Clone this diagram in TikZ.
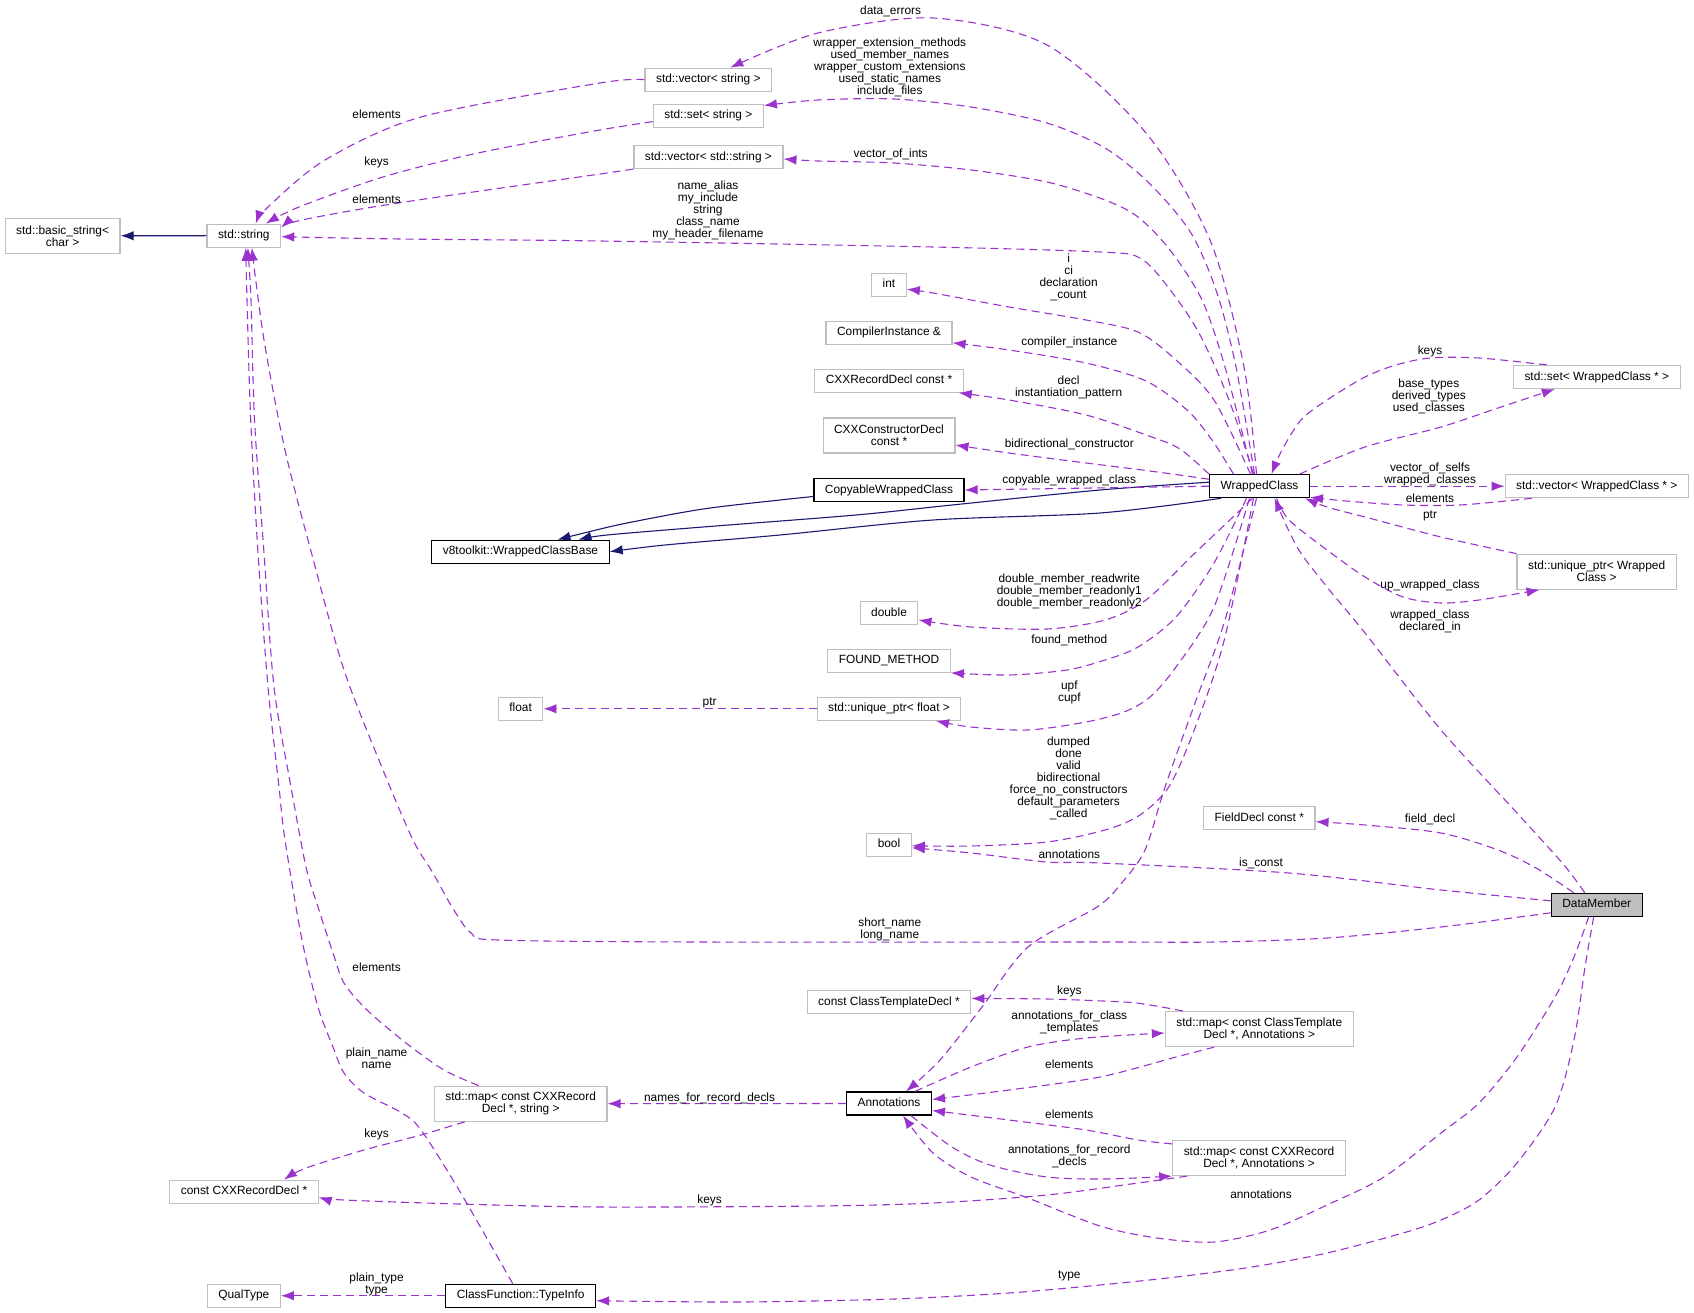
\documentclass[tikz,border=0pt]{standalone}
\usepackage{fontspec}
\setmainfont{Liberation Sans}
\usetikzlibrary{arrows.meta}

\definecolor{edgepurple}{HTML}{9A32CD}
\definecolor{inhnavy}{HTML}{191970}
\definecolor{undocgray}{HTML}{BFBFBF}
\definecolor{selfgray}{HTML}{BFBFBF}
\newcommand{\graphfont}{\fontsize{11.9}{12}\selectfont}

\begin{document}
\begin{tikzpicture}[
  x=1pt, y=-1pt,
  >={Latex[length=13pt,width=9.5pt]},
  every node/.style={font=\graphfont},
  cls/.style={draw=undocgray, line width=1.2pt, inner xsep=11pt, inner ysep=0pt},
  one/.style={cls, minimum height=23pt, text height=8.8pt, text depth=2.6pt},
  two/.style={cls, minimum height=35pt, align=center},
  doc/.style={draw=black},
  lbl/.style={inner sep=0pt, align=center},
  mem/.style={->, edgepurple, line width=1.1pt, dash pattern=on 8pt off 5pt},
  inh/.style={->, inhnavy, line width=1.1pt},
  ]
  \useasboundingbox (0,0) rectangle (1694,1313);

  \node[two] (bstr) at (62.6,235.8) {std::basic\_string<\\char >};
  \node[one] (str) at (243.8,235.7) {std::string};
  \node[one] (vstr) at (708.3,79.7) {std::vector< string >};
  \node[one] (sstr) at (708.3,115.7) {std::set< string >};
  \node[one] (vsstr) at (708.4,157) {std::vector< std::string >};
  \node[one] (int) at (889,284.7) {int};
  \node[one] (ci) at (889,332.7) {CompilerInstance \&};
  \node[one] (crd) at (889,380.7) {CXXRecordDecl const *};
  \node[two] (ccd) at (889,435.5) {CXXConstructorDecl\\const *};
  \node[one,doc] (cwc) at (889,490) {CopyableWrappedClass};
  \node[one,doc] (wcb) at (520.5,551.7) {v8toolkit::WrappedClassBase};
  \node[one] (dbl) at (889,613) {double};
  \node[one] (fm) at (889,660.8) {FOUND\_METHOD};
  \node[one] (upf) at (889,708.8) {std::unique\_ptr< float >};
  \node[one] (flt) at (520.6,708.8) {float};
  \node[one] (bool) at (889,844.8) {bool};
  \node[one,doc] (wc) at (1259.5,486.2) {WrappedClass};
  \node[one] (swc) at (1596.8,377) {std::set< WrappedClass * >};
  \node[one] (vwc) at (1596.8,486.2) {std::vector< WrappedClass * >};
  \node[two] (uwc) at (1596.6,571.7) {std::unique\_ptr< Wrapped\\Class >};
  \node[one] (fd) at (1259.3,818.2) {FieldDecl const *};
  \node[one,doc,fill=selfgray] (dm) at (1596.7,904.8) {DataMember};
  \node[one] (ctd) at (889,1002) {const ClassTemplateDecl *};
  \node[one,doc] (ann) at (889,1103.5) {Annotations};
  \node[two] (mct) at (1259.3,1029) {std::map< const ClassTemplate\\Decl *, Annotations >};
  \node[two] (mcr) at (1259,1158) {std::map< const CXXRecord\\Decl *, Annotations >};
  \node[two] (mcs) at (520.7,1103.7) {std::map< const CXXRecord\\Decl *, string >};
  \node[one] (ccrd) at (244,1191.7) {const CXXRecordDecl *};
  \node[one] (qt) at (243.8,1295.7) {QualType};
  \node[one,doc] (ti) at (520.7,1295.7) {ClassFunction::TypeInfo};

  % inheritance
  \draw[inh] (str.west) -- (bstr.east);
  \draw[inh] plot[smooth] coordinates {([yshift=-6.5pt]cwc.west) (780,500) (703,509) (627,523) (588,532) ([xshift=37pt]wcb.north)};
  \draw[inh] plot[smooth] coordinates {([yshift=4pt]wc.west) (1100,490) (952,505) (856,515) (703,527) (607,535) ([xshift=58pt]wcb.north)};
  \draw[inh] plot[smooth] coordinates {([xshift=12pt]wc.south west) (1100,513) (933,520) (780,535) (665,545) (wcb.east)};

  % members
  \draw[mem] plot[smooth] coordinates {(vstr.west) (600,83) (421,117) (325,160) (268,207) ([xshift=12pt]str.north)};
  \draw[mem] plot[smooth] coordinates {([yshift=-6pt]sstr.west) (600,130) (478,153) (383,177) (299,207) ([xshift=22pt]str.north)};
  \draw[mem] plot[smooth] coordinates {(vsstr.south west) (600,174) (398,203) (302,220) ([yshift=8pt]str.east)};
  \draw[mem] plot[smooth] coordinates {([xshift=-6pt]wc.north) (1229,400) (1199,333) (1168,287) (1140,258) (1100,252) (933,247) (600,241) (400,239) ([yshift=-1pt]str.east)};
  \draw[mem] plot[smooth] coordinates {([xshift=-3pt]wc.north) (1244,367) (1210,240) (1146,133) (1047,45) (933,18) (818,33) ([xshift=22pt]vstr.north)};
  \draw[mem] plot[smooth] coordinates {([xshift=-5pt]wc.north) (1236,367) (1217,293) (1191,233) (1150,184) (1105,148) (1047,123) (971,107) (894,99) (818,100) ([yshift=-2pt]sstr.north east)};
  \draw[mem] plot[smooth] coordinates {([xshift=-7pt]wc.north) (1225,367) (1202,300) (1170,250) (1138,217) (1105,200) (1047,182) (971,170) (894,163) (818,161) ([yshift=-2pt]vsstr.east)};
  \draw[mem] plot[smooth] coordinates {([xshift=-9pt]wc.north) (1214,400) (1176,360) (1138,332) (1086,320) (1009,307) (933,293) ([yshift=-4.5pt]int.east)};
  \draw[mem] plot[smooth] coordinates {([xshift=-26pt]wc.north) (1212,440) (1187,410) (1146,381) (1086,363) (1009,350) ([yshift=2pt]ci.south east)};
  \draw[mem] plot[smooth] coordinates {(wc.north west) (1180,449) (1149,436) (1086,415) (1009,400) ([xshift=-5pt]crd.south east)};
  \draw[mem] plot[smooth] coordinates {([yshift=7pt]wc.west) (1150,471) (1086,463) (1009,453) ([yshift=-9.5pt]ccd.east)};
  \draw[mem] (wc.west) -- (cwc.east);
  \draw[mem] plot[smooth] coordinates {([xshift=-7pt]wc.south) (1233,517) (1195,553) (1146,600) (1105,620) (1047,629) (971,627) ([yshift=-7pt]dbl.east)};
  \draw[mem] plot[smooth] coordinates {([xshift=-13pt]wc.south) (1214,563) (1176,617) (1138,647) (1105,660) (1067,670) (1009,675) (fm.south east)};
  \draw[mem] plot[smooth] coordinates {([xshift=-10pt]wc.south) (1214,607) (1176,667) (1150,697) (1124,712) (1086,722) (1028,730) (971,727) ([xshift=47pt]upf.south)};
  \draw[mem] (upf.west) -- (flt.east);
  \draw[mem] plot[smooth] coordinates {([xshift=-6pt]wc.south) (1225,637) (1198,720) (1170,785) (1140,815) (1105,830) (1047,842) (971,846) ([yshift=-1pt]bool.east)};
  \draw[mem] plot[smooth] coordinates {([xshift=-3pt]wc.south) (1225,620) (1195,703) (1165,787) (1145,850) (1120,885) (1097,907) (1028,947) (982,1007) (940,1060) ([xshift=17pt]ann.north)};
  \draw[mem] plot[smooth] coordinates {([xshift=-50pt]swc.north) (1479,358) (1430,358) (1396,365) (1365,377) (1327,400) (1301,420) (1282,450) ([xshift=12pt]wc.north)};
  \draw[mem] plot[smooth] coordinates {([xshift=40pt]wc.north) (1365,447) (1441,427) (1498,408) ([xshift=-42pt]swc.south)};
  \draw[mem] (wc.east) -- (vwc.west);
  \draw[mem] plot[smooth] coordinates {([xshift=-65pt]vwc.south) (1460,505) (1403,505) (1346,501) ([yshift=1pt]wc.south east)};
  \draw[mem] plot[smooth] coordinates {(uwc.north west) (1441,537) (1365,517) (1327,507) ([xshift=-5pt]wc.south east)};
  \draw[mem] plot[smooth] coordinates {([xshift=17pt]wc.south) (1289,520) (1327,550) (1365,577) (1403,597) (1441,603) (1479,600) ([xshift=-57pt]uwc.south)};
  \draw[mem] plot[smooth] coordinates {([yshift=4pt]dm.west) (1441,890) (1289,873) (1100,863) (1047,862) (971,853) ([yshift=-3pt]bool.east)};
  \draw[mem] plot[smooth] coordinates {([yshift=-8pt]dm.west) (1441,927) (1327,938) (1214,942) (1100,942) (700,942) (498,940) (471,933) (452,907) (433,873) (413,840) (383,770) (344,670) (312,555) (285,450) (264,340) ([xshift=8pt]str.south)};
  \draw[mem] plot[smooth] coordinates {([xshift=-23pt]dm.north) (1536,868) (1498,850) (1441,833) (1365,825) ([yshift=-3.5pt]fd.east)};
  \draw[mem] plot[smooth] coordinates {([xshift=-12pt]dm.north) (1564,865) (1517,813) (1441,730) (1365,633) (1327,587) (1297,547) ([xshift=15pt]wc.south)};
  \draw[mem] plot[smooth] coordinates {([xshift=-8pt]dm.south) (1574,957) (1555,997) (1517,1057) (1479,1103) (1441,1133) (1384,1177) (1327,1205) (1270,1230) (1214,1242) (1157,1238) (1100,1226) (1028,1198) (971,1177) (933,1153) ([xshift=14pt]ann.south)};
  \draw[mem] plot[smooth] coordinates {([xshift=-3pt]dm.south) (1585,967) (1574,1040) (1555,1107) (1517,1163) (1479,1200) (1441,1220) (1403,1233) (1327,1253) (1252,1267) (1176,1277) (1100,1285) (1009,1293) (894,1299) (741,1302) ([yshift=-5pt]ti.east)};
  \draw[mem] plot[smooth] coordinates {([xshift=18pt]mct.north west) (1150,1005) (1124,1002) (1047,999) ([yshift=3.5pt]ctd.east)};
  \draw[mem] plot[smooth] coordinates {([xshift=26pt]ann.north) (971,1067) (1028,1047) (1086,1038) ([yshift=-4pt]mct.west)};
  \draw[mem] plot[smooth] coordinates {([xshift=-45pt]mct.south) (1176,1057) (1100,1077) (1009,1090) ([yshift=4pt]ann.east)};
  \draw[mem] plot[smooth] coordinates {([yshift=-4pt]mcr.north west) (1138,1140) (1086,1130) (1009,1120) ([yshift=-7pt]ann.east)};
  \draw[mem] plot[smooth] coordinates {([xshift=22pt]ann.south) (952,1147) (990,1165) (1047,1177) (1105,1179) (mcr.south west)};
  \draw[mem] plot[smooth] coordinates {([xshift=15pt]mcr.south west) (1138,1183) (1047,1195) (933,1203) (818,1206) (600,1207) (459,1204) (344,1200) ([yshift=-5.5pt]ccrd.east)};
  \draw[mem] (ann.west) -- (mcs.east);
  \draw[mem] plot[smooth] coordinates {([xshift=-42pt]mcs.north) (444,1070) (406,1043) (367,1010) (344,983) (333,953) (318,907) (306,867) (291,787) (274,687) (264,553) (254.5,420) (251,300) ([xshift=4pt]str.south)};
  \draw[mem] plot[smooth] coordinates {([xshift=-8pt]ti.north) (459,1190) (421,1130) (402,1113) (364,1093) (344,1073) (333,1047) (318,1007) (302,940) (285,840) (279,787) (268,687) (258,553) (250.7,420) (247,300) ([xshift=2pt]str.south)};
  \draw[mem] plot[smooth] coordinates {([xshift=-56pt]mcs.south) (421,1135) (364,1150) (306,1168) ([xshift=40pt]ccrd.north)};
  \draw[mem] (ti.west) -- (qt.east);

  % edge labels
  \node[lbl] (l-vstr) at (376.6,114.7) {elements};
  \node[lbl] (l-sstr) at (376.6,162) {keys};
  \node[lbl] (l-vsstr) at (376.6,199) {elements};
  \node[lbl] (l-dataerr) at (890.6,11) {data\_errors};
  \node[lbl] (l-wrapext) at (889.8,67.7) {wrapper\_extension\_methods\\used\_member\_names\\wrapper\_custom\_extensions\\used\_static\_names\\include\_files};
  \node[lbl] (l-vints) at (890.6,154) {vector\_of\_ints};
  \node[lbl] (l-names) at (708,210.8) {name\_alias\\my\_include\\string\\class\_name\\my\_header\_filename};
  \node[lbl] (l-int) at (1068.6,277.6) {i\\ci\\declaration\\\_count};
  \node[lbl] (l-ci) at (1069.3,342) {compiler\_instance};
  \node[lbl] (l-decl) at (1068.6,387.8) {decl\\instantiation\_pattern};
  \node[lbl] (l-bidir) at (1069.3,444) {bidirectional\_constructor};
  \node[lbl] (l-copy) at (1069.3,480) {copyable\_wrapped\_class};
  \node[lbl] (l-dbl) at (1069.3,591) {double\_member\_readwrite\\double\_member\_readonly1\\double\_member\_readonly2};
  \node[lbl] (l-fm) at (1069.3,640) {found\_method};
  \node[lbl] (l-upf) at (1069.3,692) {upf\\cupf};
  \node[lbl] (l-ptrf) at (709.6,703) {ptr};
  \node[lbl] (l-bool) at (1068.6,778) {dumped\\done\\valid\\bidirectional\\force\_no\_constructors\\default\_parameters\\\_called};
  \node[lbl] (l-annwc) at (1069.3,854) {annotations};
  \node[lbl] (l-swckeys) at (1430,351) {keys};
  \node[lbl] (l-swc) at (1428.8,396) {base\_types\\derived\_types\\used\_classes};
  \node[lbl] (l-vwc) at (1430,474) {vector\_of\_selfs\\wrapped\_classes};
  \node[lbl] (l-vwcel) at (1430,498) {elements};
  \node[lbl] (l-uwcptr) at (1430,516.3) {ptr};
  \node[lbl] (l-upwc) at (1430,585.7) {up\_wrapped\_class};
  \node[lbl] (l-wcdm) at (1430,621) {wrapped\_class\\declared\_in};
  \node[lbl] (l-fd) at (1430,819.7) {field\_decl};
  \node[lbl] (l-const) at (1261,863) {is\_const};
  \node[lbl] (l-short) at (889.8,929.7) {short\_name\\long\_name};
  \node[lbl] (l-ctdkeys) at (1069.3,991) {keys};
  \node[lbl] (l-mct) at (1069.3,1022) {annotations\_for\_class\\\_templates};
  \node[lbl] (l-mctel) at (1069.3,1064) {elements};
  \node[lbl] (l-mcrel) at (1069.3,1114) {elements};
  \node[lbl] (l-mcr) at (1069.3,1156) {annotations\_for\_record\\\_decls};
  \node[lbl] (l-anndm) at (1261,1194.7) {annotations};
  \node[lbl] (l-ccrdkeys) at (709.6,1200) {keys};
  \node[lbl] (l-type) at (1069.3,1276) {type};
  \node[lbl] (l-names4) at (709.6,1098) {names\_for\_record\_decls};
  \node[lbl] (l-mcsel) at (376.6,967) {elements};
  \node[lbl] (l-plain) at (376.6,1058) {plain\_name\\name};
  \node[lbl] (l-mcskeys) at (376.6,1134) {keys};
  \node[lbl] (l-ptype) at (376.6,1284) {plain\_type\\type};
\end{tikzpicture}
\end{document}
